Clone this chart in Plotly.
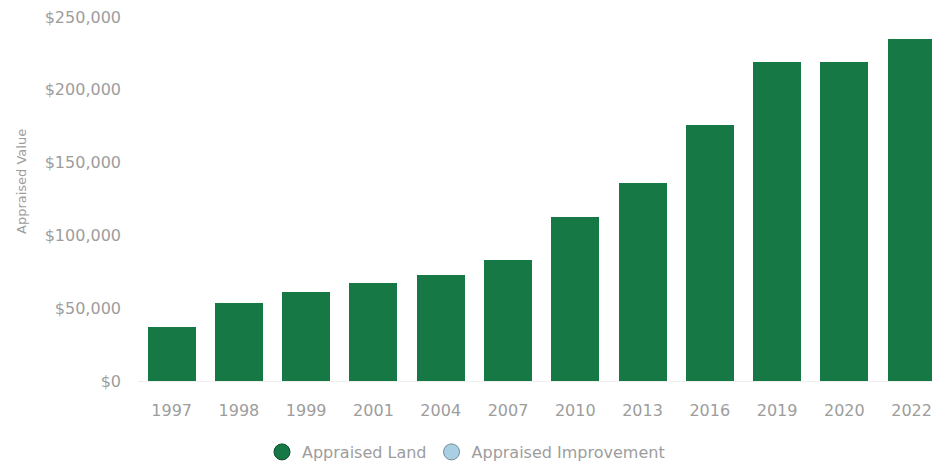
import plotly.graph_objects as go

years = ["1997", "1998", "1999", "2001", "2004", "2007", "2010", "2013", "2016", "2019", "2020", "2022"]
land_values = [37000, 53300, 61000, 67500, 72800, 83400, 112700, 136000, 175700, 219300, 219300, 234700]
improvement_values = [0, 0, 0, 0, 0, 0, 0, 0, 0, 0, 0, 0]
y_tick_values = [0, 50000, 100000, 150000, 200000, 250000]
y_tick_labels = ["$0", "$50,000", "$100,000", "$150,000", "$200,000", "$250,000"]

LAND = "#167844"
IMPR = "#a9cfe3"
GREY = "#9d9d9d"
FONT = "DejaVu Sans"

fig = go.Figure()
fig.add_trace(go.Bar(x=years, y=land_values, name="Appraised Land", marker_color=LAND,
                     marker_line_width=0, showlegend=False))
fig.add_trace(go.Bar(x=years, y=improvement_values, name="Appraised Improvement", marker_color=IMPR,
                     marker_line_width=0, showlegend=False))
# legend proxies with circular symbols
fig.add_trace(go.Scatter(x=[None], y=[None], mode="markers", name="Appraised Land",
                         marker=dict(symbol="circle", size=16, color=LAND,
                                     line=dict(color="#0d4a2b", width=1))))
fig.add_trace(go.Scatter(x=[None], y=[None], mode="markers", name="Appraised Improvement",
                         marker=dict(symbol="circle", size=16, color=IMPR,
                                     line=dict(color="#7a8a96", width=1))))

W, H = 932, 468
L, R, T, B = 138, 0, 17, 87
PH = H - T - B
fig.update_layout(
    width=W, height=H,
    margin=dict(l=L, r=R, t=T, b=B, autoexpand=False),
    paper_bgcolor="white", plot_bgcolor="white",
    barmode="stack", bargap=0.286,
    font=dict(family=FONT, color=GREY, size=15),
    showlegend=True,
    legend=dict(orientation="h", x=(466 - L) / (W - L - R), xanchor="center",
                y=(H - B - 452) / PH, yanchor="middle", traceorder="normal",
                font=dict(size=16, color=GREY), itemsizing="trace",
                tracegroupgap=0, bgcolor="rgba(0,0,0,0)"),
    xaxis=dict(type="category", categoryorder="array", categoryarray=years,
               range=[-0.5, 11.303], showgrid=False, zeroline=False, automargin=False,
               showline=False, ticks="", tickfont=dict(size=16, color=GREY),
               ticklabelstandoff=18),
    yaxis=dict(range=[0, 250000], tickvals=y_tick_values, ticktext=y_tick_labels,
               showgrid=False, zeroline=True, zerolinecolor="#eeeeee", zerolinewidth=1,
               showline=False, ticks="", tickfont=dict(size=16, color=GREY),
               ticklabelstandoff=16, automargin=False),
    annotations=[dict(text="Appraised Value", textangle=-90, xref="paper", yref="paper",
                      x=(21 - L) / (W - L - R), y=(H - B - 182) / PH,
                      xanchor="center", yanchor="middle", showarrow=False,
                      font=dict(size=13, color=GREY, family=FONT))],
)

fig.write_html("out.html", config={"displayModeBar": False},
               post_script="document.body.style.margin='0px';document.body.style.overflow='hidden';")
